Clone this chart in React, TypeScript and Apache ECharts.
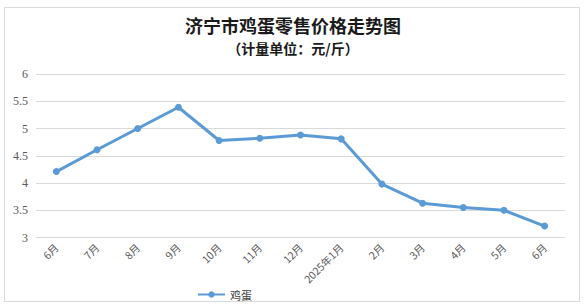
import React, { useEffect, useRef } from "react";
import * as echarts from "echarts";

const categories = ["6月", "7月", "8月", "9月", "10月", "11月", "12月", "2025年1月", "2月", "3月", "4月", "5月", "6月"];
const eggPrices = [4.21, 4.61, 5.0, 5.39, 4.78, 4.82, 4.88, 4.81, 3.98, 3.63, 3.55, 3.5, 3.21];
const seriesName = "鸡蛋";
const titleText = "济宁市鸡蛋零售价格走势图";
const subtitleText = "（计量单位：元/斤）";

export default function App() {
  const ref = useRef<HTMLDivElement>(null);
  useEffect(() => {
    if (!ref.current) return;
    const chart = echarts.init(ref.current, null, { renderer: "svg" });
    chart.setOption({
      animation: false,
      backgroundColor: "#ffffff",
      graphic: [
        {
          type: "rect",
          shape: { x: 4.5, y: 7.5, width: 575, height: 294 },
          style: { fill: "none", stroke: "#d9d9d9", lineWidth: 1 },
          silent: true,
        },
      ],
      title: [
        {
          text: titleText,
          left: "center",
          top: 14,
          padding: 0,
          textStyle: { fontFamily: "Noto Sans CJK SC", fontSize: 18, lineHeight: 22, fontWeight: "bold", color: "#1a1a1a" },
        },
        {
          text: subtitleText,
          left: "center",
          top: 39,
          padding: 0,
          textStyle: { fontFamily: "Noto Sans CJK SC", fontSize: 14, lineHeight: 17, fontWeight: "bold", color: "#1a1a1a" },
        },
      ],
      legend: {
        data: [seriesName],
        left: 192,
        top: 284,
        itemWidth: 27,
        itemHeight: 8,
        itemGap: 4,
        textStyle: { fontFamily: "Noto Sans CJK SC", fontSize: 11, color: "#404040" },
      },
      grid: { left: 36, right: 21, top: 74, bottom: 68.5, containLabel: false },
      xAxis: {
        type: "category",
        data: categories,
        boundaryGap: true,
        axisLine: { lineStyle: { color: "#d9d9d9" } },
        axisTick: { show: false },
        axisLabel: {
          rotate: 45,
          interval: 0,
          margin: 8,
          fontFamily: "Noto Sans CJK SC",
          fontSize: 10.5,
          color: "#595959",
        },
      },
      yAxis: {
        type: "value",
        min: 3,
        max: 6,
        interval: 0.5,
        axisLine: { show: false },
        axisTick: { show: false },
        axisLabel: { fontFamily: "Liberation Serif", fontSize: 12, color: "#595959", margin: 8 },
        splitLine: { lineStyle: { color: "#d9d9d9", width: 1 } },
      },
      series: [
        {
          name: seriesName,
          type: "line",
          data: eggPrices,
          symbol: "circle",
          symbolSize: 7,
          lineStyle: { color: "#5b9bd5", width: 3 },
          itemStyle: { color: "#5b9bd5" },
        },
      ],
    });
    return () => chart.dispose();
  }, []);
  return <div ref={ref} style={{ position: "fixed", left: 0, top: 0, width: 586, height: 306 }} />;
}
